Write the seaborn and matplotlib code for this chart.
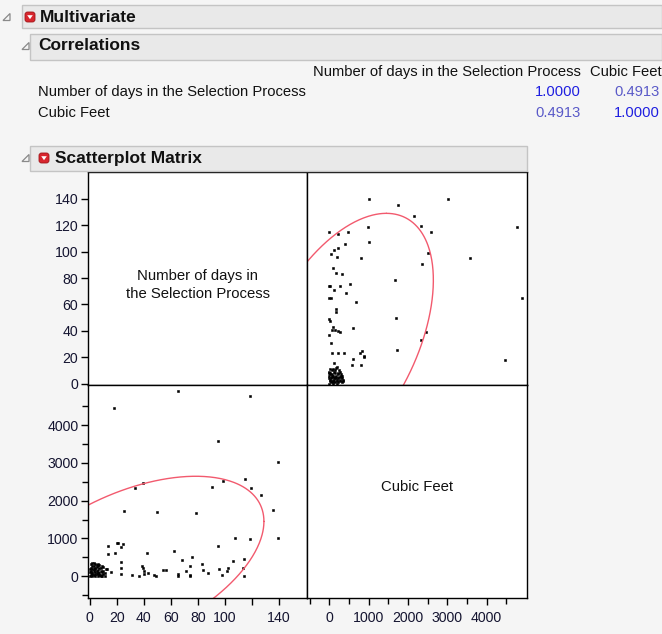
import numpy as np
import pandas as pd
import matplotlib
matplotlib.use("Agg")
import matplotlib.pyplot as plt
import seaborn as sns
from matplotlib.patches import Rectangle, FancyBboxPatch, Polygon

# ---------------- data ----------------
days_main = [139.8, 135.5, 139.8, 127.2, 119.8, 115.3, 119.0, 119.0,
             114.6, 113.6, 114.6, 107.3, 106.2, 101.5, 102.5, 97.9, 95.9, 95.2,
             99.0, 95.2, 90.6, 87.9, 84.1, 83.3, 78.8, 74.3, 74.3, 74.0,
             75.8, 71.2, 68.5, 65.2, 65.2, 65.2, 62.2, 56.6, 54.1, 49.1,
             47.6, 49.6, 43.0, 40.3, 40.3, 39.8, 39.0, 42.3, 36.7, 39.3,
             33.2, 31.2, 23.1, 23.1, 23.1, 25.0, 23.0, 21.0, 20.0, 25.7,
             18.4, 13.8, 13.8, 17.6]
cf_main = [1009, 1747, 3010, 2154, 2332, 2586, 984, 4765,
           0, 213, 467, 1009, 399, 128, 213, 34, 187, 806,
           2518, 3570, 2366, 85, 178, 331, 1662, 0, 30, 272,
           518, 128, 424, 0, 50, 4892, 679, 162, 162, 0,
           20, 1696, 94, 60, 145, 213, 272, 611, 0, 2459,
           2332, 34, 60, 213, 374, 840, 780, 870, 870, 1730,
           611, 586, 806, 4460]
days_cluster = [0, 1, 1, 2, 2, 3, 3, 4, 4, 5, 5, 6, 6, 7, 7, 8, 8, 9,
                10, 11, 12, 1, 2, 3, 4, 5, 6, 0, 2, 4, 6, 8, 10, 13, 16,
                11, 3, 7, 9, 1, 0, 1, 2, 3, 4, 5, 6, 7, 8, 9, 10, 2, 4, 6]
cf_cluster = [0, 40, 150, 90, 260, 20, 200, 110, 320, 60, 240, 0, 170,
              80, 300, 30, 210, 120, 60, 10, 180, 330, 10, 280, 0, 150,
              90, 200, 350, 220, 300, 0, 250, 186, 124, 90, 130, 20, 280, 100,
              100, 230, 60, 350, 180, 300, 80, 230, 140, 0, 150, 200, 50, 330]

var_names = ["Number of days in the Selection Process", "Cubic Feet"]
corr_matrix = [[1.0, 0.4913], [0.4913, 1.0]]

# 95% density ellipse parameters
ell_mean = [29.7, 296.0]
ell_sd = [40.6, 960.0]
ell_r = 0.4913

days_ticks = [0, 20, 40, 60, 80, 100, 120, 140]
days_y_ticklabels = ["0", "20", "40", "60", "80", "100", "120", "140"]
days_x_ticklabels = ["0", "20", "40", "60", "80", "100", "", "140"]
cf_ticks = [0, 1000, 2000, 3000, 4000]
cf_minor = [-500, 500, 1500, 2500, 3500, 4500]

df = pd.DataFrame({
    "days": days_main + days_cluster,
    "cf": cf_main + cf_cluster,
})

# ---------------- figure ----------------
sns.set_theme(style="white")
plt.rcParams["font.family"] = ["Liberation Sans", "DejaVu Sans"]
W, H = 662, 634
BG = "#f5f5f5"
fig = plt.figure(figsize=(W / 100, H / 100), dpi=100, facecolor=BG)


def fx(x):
    return x / W


def fy(y):
    return 1 - y / H


def bar(x0, y0, x1, y1):
    fig.patches.append(Rectangle((fx(x0), fy(y1)), fx(x1) - fx(x0), fy(y0) - fy(y1),
                                 transform=fig.transFigure, facecolor="#e9e9e9",
                                 edgecolor="#c4c4c4", linewidth=1.0, zorder=0))


def disclosure(x, y):
    s = 7
    fig.patches.append(Polygon([(fx(x), fy(y + s / 2)), (fx(x + s), fy(y + s / 2)),
                                (fx(x + s), fy(y - s / 2))], closed=True,
                               transform=fig.transFigure, facecolor="none",
                               edgecolor="#8a8a8a", linewidth=0.9))


def red_icon(x, y):
    s = 10
    fig.patches.append(FancyBboxPatch((fx(x), fy(y + s / 2)), fx(s), s / H,
                                      boxstyle="round,pad=0,rounding_size=0.004",
                                      transform=fig.transFigure, facecolor="#d8262e",
                                      edgecolor="#a01418", linewidth=0.6))
    fig.patches.append(Polygon([(fx(x + 2.2), fy(y - 1.8)), (fx(x + 7.8), fy(y - 1.8)),
                                (fx(x + 5), fy(y + 2.2))], closed=True,
                               transform=fig.transFigure, facecolor="white",
                               edgecolor="none"))


HFS = 12.5
# headers
bar(22, 5, 662, 28)
disclosure(3, 17)
red_icon(25, 17)
fig.text(fx(40), fy(17), "Multivariate", fontsize=HFS, fontweight="bold",
         va="center", ha="left", color="#111111")

bar(30, 34, 662, 60)
disclosure(22, 46)
fig.text(fx(38), fy(46), "Correlations", fontsize=HFS, fontweight="bold",
         va="center", ha="left", color="#111111")

# correlation table
tfs = 10.6
fig.text(fx(581), fy(72), var_names[0], fontsize=tfs, ha="right", va="center", color="#111111")
fig.text(fx(662), fy(72), var_names[1], fontsize=tfs, ha="right", va="center", color="#111111")
col_x = [581, 660]
row_y = [92, 113]


def corr_color(v):
    return "#1e1ee0" if v >= 0.99 else "#5a5ac8"


for i, name in enumerate(var_names):
    fig.text(fx(38), fy(row_y[i]), name, fontsize=tfs, ha="left", va="center", color="#111111")
    for j in range(2):
        v = corr_matrix[i][j]
        fig.text(fx(col_x[j]), fy(row_y[i]), f"{v:.4f}", fontsize=tfs, ha="right",
                 va="center", color=corr_color(v))

bar(30, 146, 527, 171)
disclosure(22, 158)
red_icon(39, 158)
fig.text(fx(55), fy(158), "Scatterplot Matrix", fontsize=HFS, fontweight="bold",
         va="center", ha="left", color="#111111")


# ---------------- panels ----------------
def ax_at(x0, y0, x1, y1):
    return fig.add_axes([fx(x0), fy(y1), fx(x1) - fx(x0), fy(y0) - fy(y1)])


ax_tl = ax_at(88, 172, 307, 385)
ax_tr = ax_at(307, 172, 527, 385)
ax_bl = ax_at(88, 385, 307, 598)
ax_br = ax_at(307, 385, 527, 598)

days_x_lim = (-1.3, 161)
days_y_lim = (-1.0, 160.4)
cf_x_lim = (-567, 5027)
cf_y_lim = (-576, 5061)

for ax in (ax_tl, ax_tr, ax_bl, ax_br):
    ax.set_facecolor("white")
    for sp in ax.spines.values():
        sp.set_color("black")
        sp.set_linewidth(1.0)
    ax.set_xticks([])
    ax.set_yticks([])

# scatter
pt_kw = dict(marker="s", s=4.0, color="black", edgecolor="black", linewidth=0.4,
             legend=False)
sns.scatterplot(data=df, x="cf", y="days", ax=ax_tr, **pt_kw)
sns.scatterplot(data=df, x="days", y="cf", ax=ax_bl, **pt_kw)

# density ellipse
c = np.sqrt(5.991)
t = np.linspace(0, 2 * np.pi, 500)
z1 = c * np.cos(t)
z2 = c * (ell_r * np.cos(t) + np.sqrt(1 - ell_r ** 2) * np.sin(t))
ell = pd.DataFrame({"days": ell_mean[0] + ell_sd[0] * z1,
                    "cf": ell_mean[1] + ell_sd[1] * z2})
sns.lineplot(data=ell, x="cf", y="days", ax=ax_tr, sort=False, estimator=None,
             color="#f25a6e", linewidth=1.0)
sns.lineplot(data=ell, x="days", y="cf", ax=ax_bl, sort=False, estimator=None,
             color="#f25a6e", linewidth=1.0)

ax_tl.set_xlim(days_x_lim); ax_tl.set_ylim(days_y_lim)
ax_tr.set_xlim(cf_x_lim); ax_tr.set_ylim(days_y_lim)
ax_bl.set_xlim(days_x_lim); ax_bl.set_ylim(cf_y_lim)
ax_br.set_xlim(cf_x_lim); ax_br.set_ylim(cf_y_lim)

for ax in (ax_tr, ax_bl):
    ax.set_xlabel("")
    ax.set_ylabel("")
    ax.set_xticks([])
    ax.set_yticks([])

lab_kw = dict(labelsize=10.2, labelcolor="#141430", direction="out", length=5,
              width=1, color="black", pad=2)

ax_tl.set_yticks(days_ticks)
ax_tl.set_yticklabels(days_y_ticklabels)
ax_tl.tick_params(axis="y", which="major", left=True, **lab_kw)

ax_bl.set_yticks(cf_ticks)
ax_bl.set_yticks(cf_minor, minor=True)
ax_bl.tick_params(axis="y", which="major", left=True, **lab_kw)
ax_bl.tick_params(axis="y", which="minor", left=True, direction="out", length=4,
                  width=1, color="black")
ax_bl.set_xticks(days_ticks)
ax_bl.set_xticklabels(days_x_ticklabels)
ax_bl.tick_params(axis="x", which="major", bottom=True, **{**lab_kw, "pad": 4})

ax_br.set_xticks(cf_ticks)
ax_br.set_xticks(cf_minor, minor=True)
ax_br.tick_params(axis="x", which="major", bottom=True, **{**lab_kw, "pad": 4})
ax_br.tick_params(axis="x", which="minor", bottom=True, direction="out", length=4,
                  width=1, color="black")

# diagonal labels
ax_tl.text(0.5, 0.47, "Number of days in\nthe Selection Process", transform=ax_tl.transAxes,
           ha="center", va="center", fontsize=10.7, color="#111111", linespacing=1.35)
ax_br.text(0.5, 0.52, var_names[1], transform=ax_br.transAxes,
           ha="center", va="center", fontsize=10.7, color="#111111")

fig.savefig("out.png", dpi=100, facecolor=BG)
